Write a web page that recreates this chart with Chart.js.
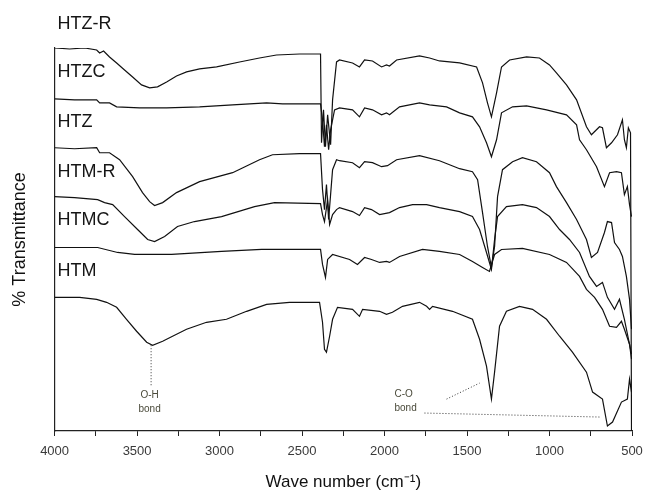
<!DOCTYPE html>
<html><head><meta charset="utf-8">
<script src="https://cdn.jsdelivr.net/npm/chart.js@4.4.1/dist/chart.umd.min.js"></script>
<style>html,body{margin:0;padding:0;background:#fff;}canvas{display:block;}</style>
</head><body>
<canvas id="c" width="646" height="494"></canvas>
<script>
// ---- data (wavenumber in cm-1, % transmittance with vertical offsets) ----
const seriesNames = ['HTZ-R', 'HTZC', 'HTZ', 'HTM-R', 'HTMC', 'HTM'];

const htzrWn = [4000,3909,3818,3745,3727,3703,3667,3624,3576,3527,3473,3424,3376,3321,3261,3200,3121,3018,2879,2758,2655,2515,2388,2382,2370,2358,2345,2327,2315,2291,2273,2194,2152,2121,2073,2018,1988,1970,1927,1788,1727,1667,1545,1442,1406,1376,1352,1321,1291,1242,1139,1061,1000,958,897,836,776,746,697,679,655,624,588,558,546,534,522,509,503];
const htzrT  = [384,383,384,382,379,381,375,369,362,355,347,344,345,350,356,360,363,365,370,374,377,378,378,289,322,285,317,287,332,370,372,369,365,372,371,365,367,366,372,376,374,371,369,365,349,329,315,339,365,372,375,374,367,359,347,332,305,297,305,304,284,289,297,312,292,284,304,299,0];

const htzcWn = [4000,3879,3745,3727,3667,3624,3485,3321,3121,2921,2715,2618,2388,2376,2364,2352,2339,2327,2303,2273,2194,2152,2121,2073,2018,1988,1970,1909,1788,1727,1624,1545,1467,1424,1382,1352,1321,1291,1224,1139,1018,897,836,818,776,715,667,636,594,564,546,528,515,503];
const htzcT  = [333,332,332,329,329,325,324,324,325,327,329,328,328,312,285,307,282,302,322,324,322,315,324,322,317,319,317,325,329,327,325,319,315,305,289,275,292,319,325,326,322,317,307,292,282,265,245,259,260,259,237,245,227,215];

const htzWn = [4000,3879,3745,3727,3667,3606,3527,3467,3424,3394,3345,3261,3121,2921,2758,2679,2515,2388,2376,2364,2352,2339,2327,2315,2291,2273,2194,2152,2121,2073,2018,1982,1927,1788,1667,1545,1467,1436,1406,1376,1352,1333,1315,1285,1224,1164,1079,1000,958,897,836,776,746,709,667,649,624,606,576,558,534,515,503];
const htzT  = [284,283,284,279,279,272,255,239,230,226,229,239,250,259,272,277,278,278,242,222,247,212,237,262,272,271,269,264,270,269,265,266,272,276,271,263,260,252,219,185,164,185,235,262,270,274,270,259,245,229,212,192,174,179,199,210,209,189,182,175,155,132,102];

const htmrWn = [4000,3879,3739,3697,3648,3576,3497,3436,3394,3333,3255,3152,2988,2788,2667,2388,2376,2364,2345,2333,2315,2291,2273,2194,2152,2121,2079,2030,1970,1909,1830,1745,1667,1545,1467,1424,1382,1352,1333,1315,1261,1164,1079,1000,939,879,818,758,715,679,649,606,576,546,515,503];
const htmrT  = [235,234,232,229,227,215,202,192,190,195,205,210,215,225,229,228,217,210,232,207,217,222,224,220,216,224,222,217,219,224,227,227,224,220,215,202,179,162,192,215,225,227,224,215,202,192,179,155,145,149,134,122,132,112,87,72];

const htmcWn = [4000,3739,3618,3515,3291,2988,2745,2388,2376,2358,2345,2315,2212,2164,2121,2079,2030,1988,1970,1909,1770,1667,1545,1467,1406,1364,1333,1291,1164,1000,897,818,776,727,679,636,594,564,546,515,503];
const htmcT  = [184,184,179,177,177,180,182,182,167,154,172,177,172,167,174,172,169,170,169,175,182,180,177,170,164,160,177,182,183,177,169,155,142,134,122,105,104,110,102,87,77];

const htmWn = [4000,3848,3745,3685,3624,3564,3503,3442,3406,3345,3285,3200,3079,2958,2836,2715,2576,2394,2376,2364,2352,2333,2315,2285,2194,2152,2133,2030,1988,1952,1891,1788,1745,1727,1709,1588,1467,1424,1382,1352,1333,1303,1261,1182,1103,1018,939,861,776,739,679,649,618,564,528,515,503];
const htmT  = [134,134,132,129,124,112,100,89,86,90,95,102,109,112,120,127,129,129,109,82,79,95,112,124,122,115,122,120,117,119,125,129,125,122,125,120,112,92,65,32,59,105,120,125,122,112,95,79,59,39,32,5,9,29,32,52,39];

const xTickValues = [4000,3750,3500,3250,3000,2750,2500,2250,2000,1750,1500,1250,1000,750,500];
const xTickLabels = ['4000','','3500','','3000','','2500','','2000','','1500','','1000','','500'];

// label positions (data coords) for the series names
const nameLabelY = [408, 360, 310, 260, 212, 160];
const nameLabelX = 3982;

// annotations
const ohLine = [[3415, 86], [3415, 44]];
const ohText = {x: 3424, lines: ['O-H', 'bond'], y: [36, 22]};
const coLines = [[[1624, 32], [1424, 48]], [[1758, 18], [697, 14]]];
const coText = {x: 1940, lines: ['C-O', 'bond'], y: [37, 23]};

// ---- build ----
const wnList = [htzrWn, htzcWn, htzWn, htmrWn, htmcWn, htmWn];
const tList  = [htzrT, htzcT, htzT, htmrT, htmcT, htmT];
const datasets = seriesNames.map((n, i) => ({
  label: n,
  data: wnList[i].slice(0, Math.min(wnList[i].length, tList[i].length)).map((w, k) => ({x: w, y: tList[i][k]})),
  borderColor: '#111',
  borderWidth: 1.2,
  pointRadius: 0,
  tension: 0,
  fill: false
}));

const FONT = "'Liberation Sans', Arial, Helvetica, sans-serif";

const annot = {
  id: 'annot',
  afterDatasetsDraw(chart) {
    const {ctx, scales: {x, y}} = chart;
    ctx.save();
    ctx.fillStyle = '#151515';
    ctx.font = '18px ' + FONT;
    ctx.textBaseline = 'middle';
    ctx.textAlign = 'left';
    seriesNames.forEach((n, i) => {
      ctx.fillText(n, x.getPixelForValue(nameLabelX), y.getPixelForValue(nameLabelY[i]));
    });
    ctx.strokeStyle = '#333';
    ctx.lineWidth = 1;
    ctx.setLineDash([1, 2]);
    const seg = (p, q) => {
      ctx.beginPath();
      ctx.moveTo(x.getPixelForValue(p[0]), y.getPixelForValue(p[1]));
      ctx.lineTo(x.getPixelForValue(q[0]), y.getPixelForValue(q[1]));
      ctx.stroke();
    };
    seg(ohLine[0], ohLine[1]);
    coLines.forEach(l => seg(l[0], l[1]));
    ctx.setLineDash([]);
    ctx.fillStyle = '#4a4a3a';
    ctx.font = '10px ' + FONT;
    ctx.textAlign = 'center';
    ohText.lines.forEach((t, i) => ctx.fillText(t, x.getPixelForValue(ohText.x), y.getPixelForValue(ohText.y[i])));
    ctx.textAlign = 'left';
    coText.lines.forEach((t, i) => ctx.fillText(t, x.getPixelForValue(coText.x), y.getPixelForValue(coText.y[i])));
    ctx.restore();
  }
};

new Chart(document.getElementById('c'), {
  type: 'line',
  data: {datasets},
  options: {
    responsive: false,
    devicePixelRatio: 1,
    animation: false,
    layout: {padding: {left: 0, right: 14, top: 48, bottom: 0}},
    plugins: {legend: {display: false}, tooltip: {enabled: false}, title: {display: false}},
    scales: {
      x: {
        type: 'linear',
        reverse: true,
        min: 500,
        max: 4000,
        afterBuildTicks: (s) => { s.ticks = xTickValues.map(v => ({value: v})); },
        afterFit: (s) => { s.paddingRight = 0; s.paddingLeft = 0; },
        ticks: {
          autoSkip: false,
          maxRotation: 0,
          padding: 8,
          color: '#3a3a3a',
          font: {family: FONT, size: 13},
          callback: (v) => { const i = xTickValues.indexOf(v); return i >= 0 ? xTickLabels[i] : ''; }
        },
        grid: {display: true, drawOnChartArea: false, drawTicks: true, tickLength: 5, color: '#222', lineWidth: 1},
        border: {display: true, color: '#222', width: 1.2},
        title: {display: true, text: 'Wave number (cm\u207B\u00B9)', color: '#111', font: {family: FONT, size: 17}, padding: {top: 5, bottom: 1}}
      },
      y: {
        type: 'linear',
        min: 0,
        max: 384,
        ticks: {display: false},
        grid: {display: false, drawTicks: false},
        border: {display: true, color: '#222', width: 1.2},
        title: {display: true, text: '% Transmittance', color: '#111', font: {family: FONT, size: 18}, padding: {top: 9, bottom: 24}}
      }
    }
  },
  plugins: [annot]
});
</script>
</body></html>
